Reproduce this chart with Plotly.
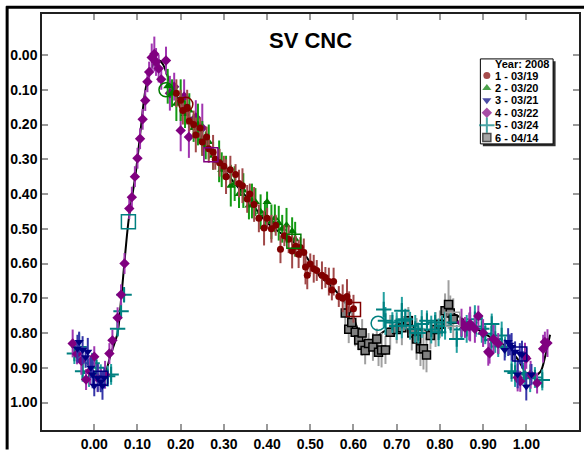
import plotly.graph_objects as go

# ---------------- data ----------------
series_names = ["1 - 03/19", "2 - 03/20", "3 - 03/21", "4 - 03/22", "5 - 03/24", "6 - 04/14"]

x1 = [0.19, 0.20, 0.205, 0.215, 0.22, 0.23, 0.235, 0.245, 0.25, 0.26,
      0.265, 0.275, 0.28, 0.29, 0.30, 0.305, 0.315, 0.327, 0.335, 0.343,
      0.354, 0.36, 0.37, 0.381, 0.393, 0.40, 0.41, 0.42, 0.431, 0.44,
      0.45, 0.458, 0.466, 0.473, 0.477, 0.485, 0.489, 0.493, 0.50, 0.508,
      0.515, 0.527, 0.535, 0.543, 0.55, 0.554, 0.566, 0.575, 0.585, 0.59,
      0.60]
y1 = [0.11, 0.13, 0.16, 0.15, 0.19, 0.20, 0.23, 0.21, 0.25, 0.236,
      0.27, 0.28, 0.30, 0.31, 0.32, 0.35, 0.33, 0.344, 0.37, 0.376,
      0.414, 0.40, 0.43, 0.47, 0.498, 0.47, 0.50, 0.49, 0.559, 0.52,
      0.53, 0.564, 0.55, 0.573, 0.554, 0.568, 0.61, 0.634, 0.601, 0.615,
      0.62, 0.634, 0.64, 0.652, 0.676, 0.652, 0.695, 0.70, 0.695, 0.71,
      0.73]
e1 = [0.04, 0.03, 0.04, 0.05, 0.03, 0.04, 0.05, 0.03, 0.04, 0.03,
      0.04, 0.05, 0.03, 0.04, 0.03, 0.05, 0.04, 0.03, 0.04, 0.05,
      0.04, 0.03, 0.05, 0.04, 0.05, 0.03, 0.04, 0.03, 0.04, 0.03,
      0.04, 0.05, 0.03, 0.04, 0.03, 0.04, 0.05, 0.04, 0.03, 0.04,
      0.03, 0.04, 0.03, 0.04, 0.03, 0.04, 0.03, 0.04, 0.05, 0.03,
      0.04]

x2 = [0.17, 0.18, 0.19, 0.20, 0.21, 0.22, 0.23, 0.24, 0.25, 0.258,
      0.265, 0.275, 0.289, 0.295, 0.305, 0.316, 0.325, 0.335, 0.345, 0.358,
      0.365, 0.373, 0.385, 0.395, 0.40, 0.41, 0.418, 0.427, 0.435, 0.445,
      0.458, 0.465]
y2 = [0.09, 0.11, 0.14, 0.13, 0.17, 0.16, 0.21, 0.20, 0.24, 0.26,
      0.25, 0.29, 0.306, 0.33, 0.33, 0.376, 0.37, 0.40, 0.39, 0.433,
      0.42, 0.423, 0.451, 0.46, 0.423, 0.48, 0.47, 0.484, 0.50, 0.49,
      0.507, 0.53]
e2 = [0.05, 0.04, 0.05, 0.06, 0.04, 0.05, 0.04, 0.06, 0.05, 0.04,
      0.05, 0.04, 0.06, 0.05, 0.04, 0.06, 0.05, 0.04, 0.05, 0.04,
      0.05, 0.04, 0.05, 0.04, 0.03, 0.05, 0.04, 0.05, 0.04, 0.05,
      0.04, 0.05]

x3 = [-0.039, -0.035, -0.027, -0.02, -0.015, -0.008, -0.004, 0.0, 0.008, 0.015,
      0.019, 0.023, 0.95, 0.958, 0.962, 0.966, 0.974, 0.98, 0.985, 0.99,
      1.0, 1.012]
y3 = [0.845, 0.826, 0.849, 0.87, 0.854, 0.90, 0.919, 0.952, 0.929, 0.94,
      0.952, 0.929, 0.849, 0.826, 0.834, 0.84, 0.854, 0.919, 0.859, 0.862,
      0.954, 0.919]
e3 = [0.04, 0.03, 0.04, 0.03, 0.04, 0.03, 0.04, 0.03, 0.04, 0.03,
      0.04, 0.03, 0.03, 0.04, 0.03, 0.04, 0.03, 0.04, 0.03, 0.04,
      0.04, 0.03]

x4 = [-0.05, -0.04, -0.03, -0.019, -0.01, 0.0, 0.008, 0.015, 0.025, 0.035,
      0.042, 0.054, 0.062, 0.07, 0.081, 0.087, 0.094, 0.1, 0.106, 0.112,
      0.118, 0.123, 0.127, 0.133, 0.139, 0.143, 0.149, 0.155, 0.166, 0.175,
      0.185, 0.2, 0.208, 0.219, 0.235, 0.25, 0.85, 0.858, 0.868, 0.87,
      0.881, 0.889, 0.9, 0.912, 0.915, 0.924, 0.935, 0.98, 0.986, 0.997,
      1.0, 1.01, 1.025, 1.039, 1.043, 1.049]
y4 = [0.83, 0.86, 0.88, 0.934, 0.91, 0.868, 0.93, 0.934, 0.92, 0.859,
      0.821, 0.756, 0.69, 0.60, 0.442, 0.409, 0.35, 0.297, 0.241, 0.185,
      0.131, 0.077, 0.049, 0.007, -0.003, 0.02, 0.039, 0.07, 0.016, 0.11,
      0.091, 0.217, 0.12, 0.236, 0.18, 0.21, 0.77, 0.784, 0.781, 0.774,
      0.788, 0.751, 0.80, 0.854, 0.858, 0.817, 0.83, 0.928, 0.939, 0.868,
      0.873, 0.92, 0.944, 0.845, 0.826, 0.829]
e4 = [0.04, 0.03, 0.04, 0.03, 0.04, 0.03, 0.04, 0.03, 0.04, 0.03,
      0.03, 0.03, 0.03, 0.03, 0.03, 0.03, 0.03, 0.03, 0.03, 0.03,
      0.03, 0.03, 0.03, 0.04, 0.05, 0.04, 0.04, 0.03, 0.04, 0.05,
      0.04, 0.06, 0.05, 0.06, 0.05, 0.07, 0.04, 0.03, 0.04, 0.05,
      0.04, 0.03, 0.04, 0.04, 0.03, 0.04, 0.03, 0.04, 0.03, 0.04,
      0.03, 0.04, 0.03, 0.04, 0.03, 0.04]

x5 = [-0.046, -0.035, -0.027, -0.012, -0.005, 0.005, 0.015, 0.031, 0.039, 0.054,
      0.062, 0.069, 0.67, 0.674, 0.69, 0.70, 0.712, 0.712, 0.72, 0.731,
      0.743, 0.75, 0.758, 0.77, 0.78, 0.789, 0.797, 0.805, 0.812, 0.825,
      0.839, 0.85, 0.862, 0.87, 0.881, 0.883, 0.897, 0.905, 0.919, 0.92,
      0.928, 0.935, 0.943, 0.951, 0.966, 0.974, 0.994, 0.997, 1.009, 1.02,
      1.037]
y5 = [0.859, 0.84, 0.91, 0.915, 0.887, 0.90, 0.93, 0.924, 0.919, 0.788,
      0.737, 0.69, 0.732, 0.765, 0.77, 0.78, 0.765, 0.736, 0.76, 0.779,
      0.788, 0.80, 0.774, 0.765, 0.79, 0.77, 0.798, 0.78, 0.779, 0.77,
      0.817, 0.79, 0.788, 0.77, 0.76, 0.781, 0.788, 0.802, 0.82, 0.774,
      0.817, 0.839, 0.807, 0.84, 0.91, 0.915, 0.915, 0.919, 0.93, 0.928,
      0.935]
e5 = [0.03, 0.04, 0.03, 0.04, 0.03, 0.03, 0.04, 0.03, 0.03, 0.02,
      0.02, 0.02, 0.05, 0.04, 0.03, 0.04, 0.05, 0.04, 0.03, 0.04,
      0.04, 0.03, 0.04, 0.03, 0.04, 0.03, 0.04, 0.03, 0.04, 0.03,
      0.04, 0.03, 0.04, 0.03, 0.04, 0.03, 0.04, 0.03, 0.04, 0.03,
      0.04, 0.03, 0.04, 0.03, 0.03, 0.04, 0.03, 0.03, 0.04, 0.03,
      0.03]

x6 = [0.581, 0.589, 0.596, 0.604, 0.612, 0.62, 0.62, 0.627, 0.635, 0.645,
      0.654, 0.658, 0.665, 0.674, 0.685, 0.70, 0.712, 0.727, 0.735, 0.746,
      0.755, 0.762, 0.769, 0.778, 0.79, 0.80, 0.812, 0.82, 0.824, 0.831]
y6 = [0.742, 0.789, 0.77, 0.798, 0.82, 0.80, 0.835, 0.85, 0.83, 0.84,
      0.817, 0.855, 0.849, 0.849, 0.798, 0.79, 0.785, 0.765, 0.80, 0.817,
      0.845, 0.845, 0.863, 0.807, 0.79, 0.775, 0.736, 0.718, 0.742, 0.76]
e6 = [0.04, 0.04, 0.03, 0.04, 0.03, 0.04, 0.03, 0.04, 0.03, 0.04,
      0.03, 0.04, 0.05, 0.04, 0.05, 0.04, 0.05, 0.04, 0.05, 0.06,
      0.05, 0.06, 0.05, 0.04, 0.05, 0.04, 0.05, 0.07, 0.05, 0.06]

# fitted light curve
curve_x = [0.027, 0.038, 0.054, 0.062, 0.079, 0.096, 0.108, 0.119, 0.135, 0.146,
           0.158, 0.169, 0.181, 0.204, 0.242, 0.289, 0.319, 0.36, 0.397, 0.44,
           0.473, 0.497, 0.52, 0.55, 0.573, 0.59, 0.60, 0.61, 0.627, 0.642,
           0.658, 0.681, 0.72, 0.75, 0.78, 0.80, 0.82, 0.84, 0.87, 0.90,
           0.93, 0.96, 0.98, 1.0, 1.018, 1.033, 1.045, 1.055]
curve_y = [0.915, 0.862, 0.80, 0.704, 0.48, 0.339, 0.208, 0.096, 0.03, 0.013,
           0.025, 0.058, 0.10, 0.142, 0.227, 0.31, 0.36, 0.42, 0.479, 0.52,
           0.55, 0.592, 0.634, 0.667, 0.70, 0.73, 0.755, 0.79, 0.83, 0.83,
           0.807, 0.788, 0.77, 0.79, 0.79, 0.765, 0.74, 0.75, 0.775, 0.80,
           0.82, 0.845, 0.875, 0.915, 0.923, 0.911, 0.86, 0.805]

# large open markers
open_x = [0.166, 0.212, 0.27, 0.079, 0.462, 0.60, 0.657, 0.83, 0.015, 0.985]
open_y = [0.10, 0.142, 0.287, 0.48, 0.536, 0.732, 0.772, 0.76, 0.93, 0.86]
open_sym = ["circle-open", "circle-open", "square-open", "square-open", "square-open",
            "square-open", "circle-open", "square-open", "square-open", "square-open"]
open_col = ["#007a00", "#800000", "#800080", "#008080", "#007a00",
            "#800000", "#008080", "#a0a0a0", "#000080", "#000080"]

x_ticks = [0.0, 0.1, 0.2, 0.3, 0.4, 0.5, 0.6, 0.7, 0.8, 0.9, 1.0]
y_ticks = [0.0, 0.1, 0.2, 0.3, 0.4, 0.5, 0.6, 0.7, 0.8, 0.9, 1.0]

# ---------------- styling ----------------
W, H = 584, 455
L, R, T, B = 42, 3, 14, 15
PW, PH = W - L - R, H - T - B

def px(x):
    return (x - L) / PW

def py(y):
    return (H - B - y) / PH

FONT = "Liberation Sans, Arial, sans-serif"

styles = [
    dict(symbol="circle", size=7, color="#800000", line=dict(width=0), err="#a04848"),
    dict(symbol="triangle-up", size=8, color="#007a00", line=dict(width=0), err="#139a13"),
    dict(symbol="triangle-down", size=8, color="#000080", line=dict(width=0), err="#3535a8"),
    dict(symbol="diamond", size=8, color="#800080", line=dict(width=0), err="#a035b0"),
    dict(symbol="cross-thin", size=11, color="#008080", line=dict(width=2, color="#008080"), err="#23a0a0"),
    dict(symbol="square", size=8, color="#808080", line=dict(width=1.5, color="#000000"), err="#a0a0a0"),
]
xs = [x1, x2, x3, x4, x5, x6]
ys = [y1, y2, y3, y4, y5, y6]
es = [e1, e2, e3, e4, e5, e6]

fig = go.Figure()

fig.add_trace(go.Scatter(
    x=curve_x, y=curve_y, mode="lines", showlegend=False,
    line=dict(color="black", width=2, shape="spline", smoothing=0.8),
))

draw_order = [5, 4, 3, 2, 1, 0]
for i in draw_order:
    st = styles[i]
    fig.add_trace(go.Scatter(
        x=xs[i], y=ys[i], mode="markers", name=series_names[i], showlegend=False,
        marker=dict(symbol=st["symbol"], size=st["size"], color=st["color"], line=st["line"]),
        error_y=dict(type="data", array=es[i], visible=True, color=st["err"], thickness=2, width=0),
    ))

fig.add_trace(go.Scatter(
    x=open_x, y=open_y, mode="markers", showlegend=False,
    marker=dict(symbol=open_sym, size=14, color=open_col, line=dict(width=1.5, color=open_col)),
))

# manual legend (overlay axis in pixel coordinates)
leg_item_y = [77, 89.7, 102.4, 115.1, 127.8, 140.5]
leg_marker_x = 488.5
fig.add_trace(go.Scatter(
    x=[leg_marker_x] * 6, y=leg_item_y, xaxis="x2", yaxis="y2", mode="markers",
    showlegend=False, cliponaxis=False, hoverinfo="skip",
    marker=dict(symbol=[s["symbol"] for s in styles],
                size=[7, 8, 8, 8, 11, 8],
                color=[s["color"] for s in styles],
                line=dict(width=[0, 0, 0, 0, 2, 1.5],
                          color=["#800000", "#007a00", "#000080", "#800080", "#008080", "#000000"])),
))

shapes = [
    # outer frame
    dict(type="line", xref="paper", yref="paper", x0=px(7), x1=px(7), y0=py(6), y1=py(460),
         line=dict(color="black", width=3)),
    dict(type="line", xref="paper", yref="paper", x0=px(6), x1=px(590), y0=py(7), y1=py(7),
         line=dict(color="black", width=3)),
    # legend shadow + box (below traces so the legend symbols show)
    dict(type="rect", xref="paper", yref="paper", x0=px(484.5), x1=px(557.5), y0=py(149.5), y1=py(62.5),
         line=dict(width=0), fillcolor="#303030", layer="below"),
    dict(type="rect", xref="paper", yref="paper", x0=px(482), x1=px(555), y0=py(147), y1=py(60),
         line=dict(width=1, color="black"), fillcolor="white", layer="below"),
]

annotations = [
    dict(text="<b>SV CNC</b>", xref="paper", yref="paper", x=px(311), y=py(41),
         showarrow=False, xanchor="center", yanchor="middle",
         font=dict(family=FONT, size=22, color="black")),
    dict(text="<b>Year: 2008</b>", xref="paper", yref="paper", x=px(553), y=py(65.5),
         showarrow=False, xanchor="right", yanchor="middle",
         font=dict(family=FONT, size=11, color="black")),
]
for name, yy in zip(series_names, leg_item_y):
    annotations.append(dict(text="<b>" + name + "</b>", xref="paper", yref="paper",
                            x=px(494.5), y=py(yy), showarrow=False, xanchor="left", yanchor="middle",
                            font=dict(family=FONT, size=11, color="black")))

axis_common = dict(
    ticks="inside", ticklen=6, tickwidth=1.5, tickcolor="#9a9a9a",
    showline=True, linecolor="#202020", linewidth=1.5, mirror="ticks",
    showgrid=False, zeroline=False, tickformat=".2f",
    tickfont=dict(family=FONT, size=14, color="black", weight="bold"),
)

fig.update_layout(
    width=W, height=H, autosize=False,
    margin=dict(l=L, r=R, t=T, b=B, pad=0),
    paper_bgcolor="white", plot_bgcolor="white",
    showlegend=False,
    xaxis=dict(range=[-0.121, 1.122], tickvals=x_ticks, **axis_common),
    yaxis=dict(range=[1.079, -0.118], tickvals=y_ticks, **axis_common),
    xaxis2=dict(overlaying="x", range=[L, W - R], visible=False, fixedrange=True),
    yaxis2=dict(overlaying="y", range=[H - B, T], visible=False, fixedrange=True),
    shapes=shapes, annotations=annotations,
)

fig.write_html("out.html")
